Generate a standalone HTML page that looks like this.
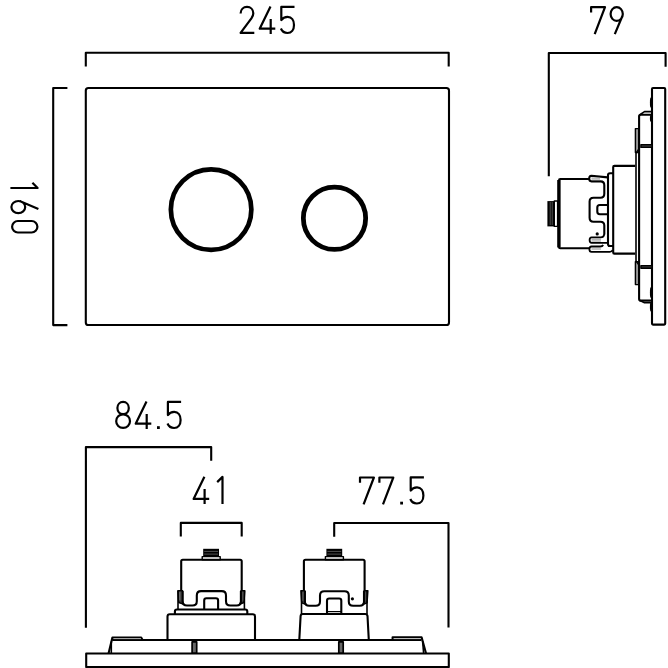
<!DOCTYPE html>
<html><head><meta charset="utf-8"><style>
html,body{margin:0;padding:0;background:#fff;}
svg{display:block;}
</style></head><body>
<svg width="668" height="668" viewBox="0 0 668 668">
<rect width="668" height="668" fill="#fff"/>
<g fill="none" stroke="#000" stroke-width="2.1" stroke-linejoin="round">

<path d="M85.8,66.6 V52.8 H448.7 V66.6"/>
<path d="M67.4,88 H53.2 V325.1 H67.4"/>
<rect x="85.8" y="88" width="363.2" height="237" rx="2.6"/>
<circle cx="211.1" cy="209.6" r="40.25" stroke-width="4.7"/>
<circle cx="334.5" cy="218.3" r="31.15" stroke-width="4.8"/>


<path d="M85.9,627.7 V447.1 H211.2 V460.7"/>
<path d="M180.8,536.6 V522.9 H241.7 V536.6"/>
<path d="M334.2,536.8 V523 H448.5 V627.6"/>
<!-- base -->
<path d="M86.2,653.5 H448.8 V667 H86.2 Z"/>
<!-- middle layer -->
<path d="M108.6,653.3 L112.4,637.6 H141.2 L142.6,640"/>
<path d="M112.2,640 H421.5"/>
<path d="M111.3,641.5 V653" stroke-width="1.6"/>
<path d="M113.5,638.6 H141" stroke="#bbb" stroke-width="0.9"/>
<path d="M392.6,640 V637.2 H421.6 L426,653.3"/>
<path d="M393.8,638.6 H420.6" stroke="#bbb" stroke-width="0.9"/>
<path d="M422.6,641 L423.6,653" stroke-width="1.6"/>


<path d="M548.8,176.2 V53 H665.6 V66.8"/>
<rect x="652" y="88" width="13.2" height="236.6" rx="1"/>
<ellipse cx="650.9" cy="102.6" rx="1" ry="5.2" fill="#000" stroke="none"/>
<ellipse cx="650.9" cy="118.2" rx="1" ry="3.5" fill="#000" stroke="none"/>
<ellipse cx="650.9" cy="292.6" rx="1" ry="5.4" fill="#000" stroke="none"/>
<ellipse cx="650.9" cy="306.7" rx="1" ry="4.7" fill="#000" stroke="none"/>
<path d="M652,114.8 H640.6 Q639.1,114.8 639.1,116.3 V299.1 Q639.1,300.6 640.6,300.6 H652"/>
<path d="M639.5,115 L644.5,111.6 H651" stroke-width="1.6"/>
<path d="M639.5,300.4 L644.5,302.8 H651" stroke-width="1.6"/>
<rect x="635.4" y="128.6" width="3.3" height="24" fill="#999" stroke-width="1.4"/>
<rect x="635.4" y="261.6" width="3.3" height="23" fill="#999" stroke-width="1.4"/>
<path d="M636,152.6 V261.6" stroke-width="1.6"/>
<path d="M636,153 L639,149" stroke-width="1.6"/>
<path d="M636,261 L639,265" stroke-width="1.6"/>
<rect x="640.9" y="144.6" width="11.2" height="2.8" fill="#333" stroke-width="1.4"/>
<rect x="640.9" y="265.6" width="11.2" height="2.7" fill="#333" stroke-width="1.4"/>
<path d="M635.2,165.9 H614.4 Q613.2,165.9 613.2,167.1 V252.4 Q613.2,253.6 614.4,253.6 H635.2"/>
<path d="M613.2,173.3 H610 Q608,173.3 608,175.3 V244 Q608,246 610,246 H613.2"/>
<path d="M589,179 H560.3 Q559,179 559,180.3 V247 Q559,248.3 560.3,248.3 H589"/>
<path d="M558.9,180 V247.5" stroke-width="3.4"/>
<rect x="547.4" y="201.1" width="6.9" height="25.3" fill="#000" stroke="none"/>
<path d="M550.2,202 V225 M552.2,202 V225" stroke="#888" stroke-width="0.6"/>
<rect x="554.3" y="201" width="3.3" height="25.4" fill="#fff" stroke-width="1.4"/>
<path d="M607.6,177.4 L591.4,175.8 Q589.2,175.8 589.2,178.6 Q589.2,181.4 591.4,181.4 H600.5 Q604.3,181.4 604.3,185.2 V193.8 Q604.3,197.7 600.4,197.7 H593.5 Q589.6,197.7 589.6,201.6 V217.8 Q589.6,221.7 593.5,221.7 H600.4 Q604.3,221.7 604.3,225.6 V234.5"/>
<path d="M591.5,178.1 H600 M591.5,180 H600" stroke="#777" stroke-width="0.8"/>
<path d="M604.2,234 Q604.2,237.3 600.5,237.3 H591.6 Q589.6,237.3 589.6,240 Q589.6,242.8 591.6,242.8 H608" stroke-width="1.8"/>
<path d="M591.5,239.2 H601 M591.5,241 H601" stroke="#777" stroke-width="0.8"/>
<path d="M603.2,245 Q602.4,246.5 600.2,246.5 H591.5 Q589.4,246.5 589.4,249.2 Q589.4,251.9 591.5,251.9 H609.8 Q611.8,251.9 612.6,250" stroke-width="1.8"/>
<path d="M591.5,249 H601" stroke="#777" stroke-width="0.8"/>
<path d="M608,246 H613" stroke-width="1.8"/>
<path d="M607.5,205 H599.8 Q597.3,205 597.3,207.5 V211.8 Q597.3,214.2 599.8,214.2 H607.5"/>
<circle cx="597.2" cy="233.9" r="1.6" fill="#000" stroke="none"/>


<!-- module 1 nut -->
<rect x="203.2" y="548.8" width="15.8" height="7.6" fill="#000" stroke="none"/>
<path d="M204.2,551.4 H218 M204.2,554.1 H218" stroke="#888" stroke-width="0.6"/>
<rect x="202.2" y="556.6" width="18" height="3.2" fill="#fff" stroke-width="1.4"/>
<!-- body -->
<path d="M181.2,590.6 V561.3 Q181.2,559.7 182.8,559.7 H240.1 Q241.7,559.7 241.7,561.3 V590.6"/>
<path d="M177.9,590.6 H182.6 V600.0 Q182.6,603.5 184.1,604.3 L178.70000000000002,602.5 Z" fill="#3a3a3a" stroke-width="1.4"/>
<path d="M179.5,592.1 V600.5 M181.0,592.1 V600.5" stroke="#888" stroke-width="0.6"/>
<path d="M178,590.7 V609.5" stroke-width="1.6"/>
<path d="M244.8,590.6 H240.9 V600.0 Q240.9,603.5 239.4,604.3 L244.0,602.5 Z" fill="#3a3a3a" stroke-width="1.4"/>
<path d="M243.20000000000002,592.1 V600.5 M241.70000000000002,592.1 V600.5" stroke="#888" stroke-width="0.6"/>
<path d="M244.4,590.7 V609.5" stroke-width="1.6"/>
<path d="M182.6,591 V601.2 Q182.6,605.5 187,605.5 H192.4 Q196.8,605.5 196.8,601.2 V595.4 Q196.8,591.1 201.1,591.1 H221.7 Q226,591.1 226,595.4 V601.2 Q226,605.5 230.3,605.5 H236.6 Q240.9,605.5 240.9,601.2 V591"/>
<path d="M204.2,609.5 V600.5 Q204.2,598.3 206.4,598.3 H215.9 Q218.1,598.3 218.1,600.5 V609.5"/>
<path d="M174.9,614 V611.5 Q174.9,609.5 176.9,609.5 H245.3 Q247.3,609.5 247.3,611.5 V614"/>
<path d="M167.5,640 V616.5 Q167.5,614.2 169.8,614.2 H252.8 Q255,614.2 255,616.5 V640"/>
<rect x="192.1" y="641.9" width="4.6" height="11.2" fill="#666" stroke-width="1.7"/>


<rect x="326.4" y="548.8" width="15.8" height="7.6" fill="#000" stroke="none"/>
<path d="M327.4,551.4 H341.2 M327.4,554.1 H341.2" stroke="#888" stroke-width="0.6"/>
<rect x="325.4" y="556.6" width="18" height="3.2" fill="#fff" stroke-width="1.4"/>
<path d="M303.9,590.6 V561.3 Q303.9,559.7 305.5,559.7 H363 Q364.6,559.7 364.6,561.3 V590.6"/>
<path d="M300.9,590.6 H304.9 V600.3 Q304.9,603.8 306.4,604.5999999999999 L301.7,602.8 Z" fill="#3a3a3a" stroke-width="1.4"/>
<path d="M302.5,592.1 V600.8 M304.0,592.1 V600.8" stroke="#888" stroke-width="0.6"/>
<path d="M301.5,590.7 V614" stroke-width="1.6"/>
<path d="M367.9,590.6 H364 V600.3 Q364,603.8 362.5,604.5999999999999 L367.09999999999997,602.8 Z" fill="#3a3a3a" stroke-width="1.4"/>
<path d="M366.29999999999995,592.1 V600.8 M364.79999999999995,592.1 V600.8" stroke="#888" stroke-width="0.6"/>
<path d="M367,590.7 V614" stroke-width="1.6"/>
<path d="M304.9,591 V601.5 Q304.9,605.8 309.2,605.8 H315.7 Q320,605.8 320,601.5 V595.6 Q320,591.3 324.3,591.3 H344.5 Q348.8,591.3 348.8,595.6 V601.5 Q348.8,605.8 353.1,605.8 H359.7 Q364,605.8 364,601.5 V591"/>
<path d="M327,614 V600.7 Q327,598.5 329.2,598.5 H339.1 Q341.3,598.5 341.3,600.7 V614"/>
<path d="M327,611.6 H341.3" stroke-width="1.2"/>
<path d="M299.3,640 L300.6,616 Q300.8,614 302.8,614 H365.2 Q367.2,614 367.5,616 L368.8,640"/>
<circle cx="352.4" cy="598.8" r="1.6" fill="#000" stroke="none"/>
<rect x="338.8" y="641.9" width="4.4" height="11.2" fill="#666" stroke-width="1.7"/>

</g>
<g fill="none" stroke="#000" stroke-width="2.2" stroke-linecap="butt" stroke-linejoin="round">
<path transform="translate(239.6,5.9)" d="M1,7.6 C1,3.6 3.8,1 7.4,1 C11,1 13.7,3.6 13.7,7.3 C13.7,9.3 13,10.8 11.8,12.5 L1,27 L14.7,27"/>
<path transform="translate(258.7,5.9)" d="M11.8,0.6 L1,22.8 L16.6,22.8 M12,13 L12,28"/>
<path transform="translate(280.0,5.9)" d="M14.5,1 L1.3,1 L1.3,14.2 C2.7,12.1 4.9,11 7.6,11 C11.6,11 14,14.2 14,19 C14,23.9 11.4,27.1 7.5,27.1 C4.5,27.1 2.1,25.4 0.9,22.6"/>
<path transform="translate(590.1,6.1)" d="M1,6.4 L1,1.1 L14.9,1.1 L4.6,28"/>
<path transform="translate(609.6,6.1)" d="M7.1,1 C10.5,1 13.2,4.1 13.2,7.9 C13.2,11.7 10.5,14.8 7.1,14.8 C3.7,14.8 1,11.7 1,7.9 C1,4.1 3.7,1 7.1,1 Z M13.1,9.2 L5.2,28"/>
<path transform="translate(115.2,400.9)" d="M7.9,1 C11.2,1 13.6,3.6 13.6,7.1 C13.6,10.6 11.2,13.3 7.9,13.3 C4.6,13.3 2.2,10.6 2.2,7.1 C2.2,3.6 4.6,1 7.9,1 Z M7.9,13.4 C11.8,13.4 14.8,16.4 14.8,20.3 C14.8,24.2 11.8,27 7.9,27 C4,27 1,24.2 1,20.3 C1,16.4 4,13.4 7.9,13.4 Z"/>
<path transform="translate(134.7,400.9)" d="M11.8,0.6 L1,22.8 L16.6,22.8 M12,13 L12,28"/>
<rect x="157.0" y="426.2" width="2.8" height="2.8" fill="#000" stroke="none"/>
<path transform="translate(166.6,400.9)" d="M14.5,1 L1.3,1 L1.3,14.2 C2.7,12.1 4.9,11 7.6,11 C11.6,11 14,14.2 14,19 C14,23.9 11.4,27.1 7.5,27.1 C4.5,27.1 2.1,25.4 0.9,22.6"/>
<path transform="translate(192.6,476.1)" d="M11.8,0.6 L1,22.8 L16.6,22.8 M12,13 L12,28"/>
<path transform="translate(216.5,476.1)" d="M0.7,6 L6,0.8 L6,28"/>
<path transform="translate(359.0,476.4)" d="M1,6.4 L1,1.1 L14.9,1.1 L4.6,28"/>
<path transform="translate(378.4,476.4)" d="M1,6.4 L1,1.1 L14.9,1.1 L4.6,28"/>
<rect x="400.2" y="501.7" width="2.8" height="2.8" fill="#000" stroke="none"/>
<path transform="translate(409.4,476.4)" d="M14.5,1 L1.3,1 L1.3,14.2 C2.7,12.1 4.9,11 7.6,11 C11.6,11 14,14.2 14,19 C14,23.9 11.4,27.1 7.5,27.1 C4.5,27.1 2.1,25.4 0.9,22.6"/>
<g transform="matrix(0,1,-1,0,38.4,182.0)"><path transform="translate(0,0)" d="M0.7,6 L6,0.8 L6,28"/>
<path transform="translate(17.9,0)" d="M7.2,27 C3.8,27 1.1,23.9 1.1,20.1 C1.1,16.3 3.8,13.2 7.2,13.2 C10.6,13.2 13.3,16.3 13.3,20.1 C13.3,23.9 10.6,27 7.2,27 Z M1.2,18.8 L9.1,0"/>
<path transform="translate(38.0,0)" d="M6.75,1 C9.9,1 12.5,3.6 12.5,6.75 L12.5,20.55 C12.5,23.7 9.9,26.3 6.75,26.3 C3.6,26.3 1,23.7 1,20.55 L1,6.75 C1,3.6 3.6,1 6.75,1 Z"/></g>
</g>
</svg>
</body></html>
